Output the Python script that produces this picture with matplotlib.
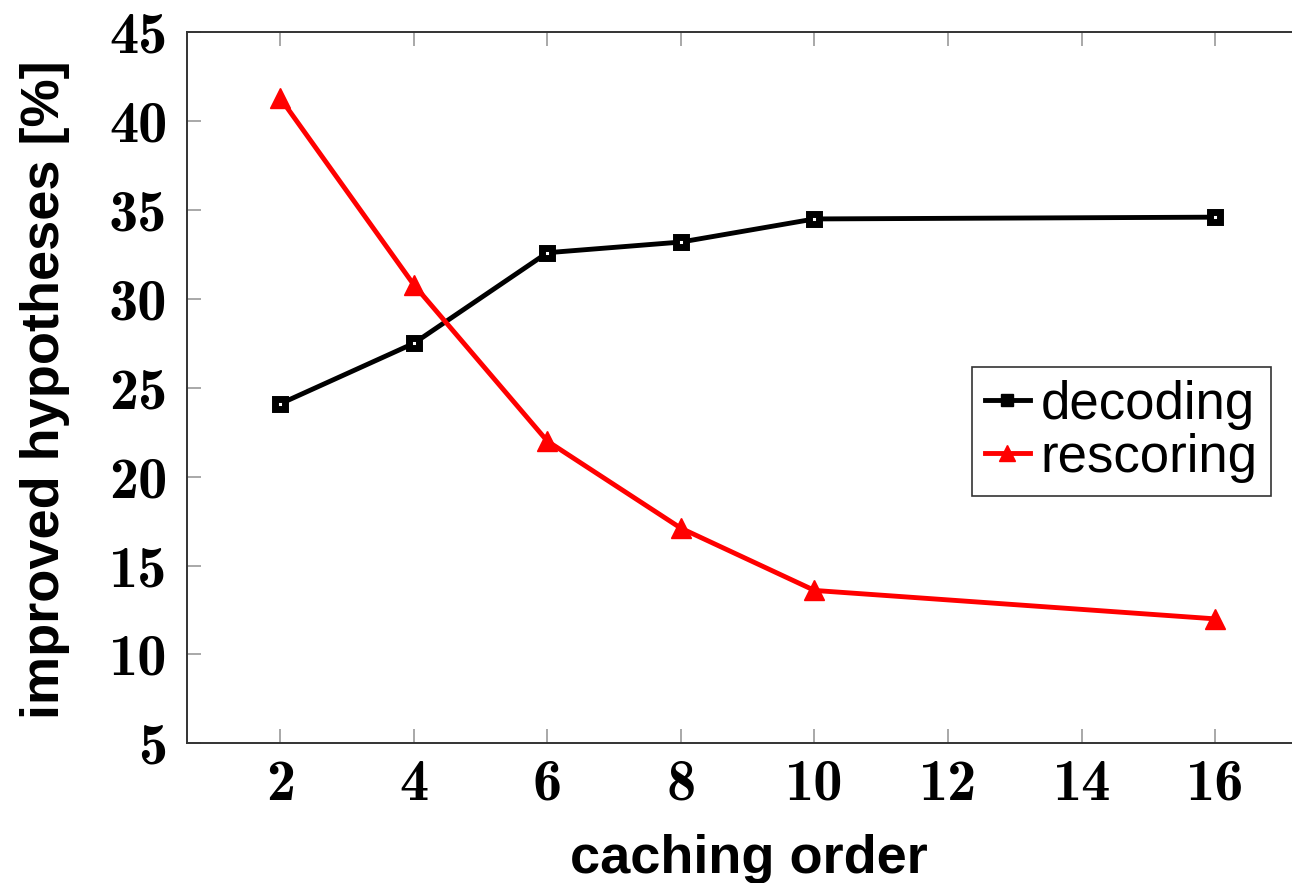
import matplotlib
matplotlib.use("Agg")
import matplotlib.pyplot as plt
from matplotlib.ticker import FixedLocator, FuncFormatter
from matplotlib.lines import Line2D

caching_order = [2, 4, 6, 8, 10, 16]
decoding = [24.1, 27.5, 32.6, 33.2, 34.5, 34.6]
rescoring = [41.3, 30.8, 22.0, 17.1, 13.6, 12.0]
x_ticks = [2, 4, 6, 8, 10, 12, 14, 16]
y_ticks = [5, 10, 15, 20, 25, 30, 35, 40, 45]

plt.rcParams['font.family'] = ['Liberation Sans', 'DejaVu Sans']

W, H = 1292, 883
fig = plt.figure(figsize=(W / 100, H / 100), dpi=100)
ax = fig.add_axes([186.7 / W, (H - 743.3) / H, 1122 / W, (743.3 - 32.3) / H])

ax.plot(caching_order, decoding, color='black', lw=3.5, marker='s', ms=7.5,
        mfc='white', mec='black', mew=5, label='decoding', zorder=3)
ax.plot(caching_order, rescoring, color='#ff0000', lw=3.5, marker='^', ms=14,
        mfc='#ff0000', mec='#ff0000', label='rescoring', zorder=3)

ax.set_xlim(0.6, 17.4)
ax.set_ylim(5, 45)
ax.xaxis.set_major_locator(FixedLocator(x_ticks))
ax.yaxis.set_major_locator(FixedLocator(y_ticks))
fmt = FuncFormatter(lambda v, p: '%d' % int(round(v)))
ax.xaxis.set_major_formatter(fmt)
ax.yaxis.set_major_formatter(fmt)
ax.tick_params(axis='both', direction='in', length=10, width=1.2, color='#999999',
               labelsize=42, top=True, right=True)
ax.tick_params(axis='x', pad=11)
ax.tick_params(axis='y', pad=14)
for lab in ax.get_xticklabels() + ax.get_yticklabels():
    lab.set_fontfamily('cmb10')
for s in ax.spines.values():
    s.set_color('#333333')
    s.set_linewidth(1.4)

fig.text(749 / W, (H - 873) / H, 'caching order', fontsize=39,
         fontweight='bold', ha='center', va='baseline')
fig.text(45 / W, (H - 390) / H, 'improved hypotheses [%]', fontsize=39,
         fontweight='bold', rotation=90, ha='center', va='center')

handles = [Line2D([0], [0], color='black', lw=3.5, marker='s', ms=9, mfc='black', mec='black'),
           Line2D([0], [0], color='#ff0000', lw=3.5, marker='^', ms=12, mfc='#ff0000', mec='#ff0000')]
leg = fig.legend(handles, ['decoding', 'rescoring'], loc='upper left',
                 bbox_to_anchor=(971.7 / W, (H - 366.7) / H), fontsize=38,
                 frameon=True, fancybox=False, framealpha=1, edgecolor='#333333',
                 handlelength=0.85, handletextpad=0.2, borderpad=0.25,
                 labelspacing=0.05, borderaxespad=0)
leg.get_frame().set_linewidth(1.2)

fig.savefig('out.png', dpi=100)
